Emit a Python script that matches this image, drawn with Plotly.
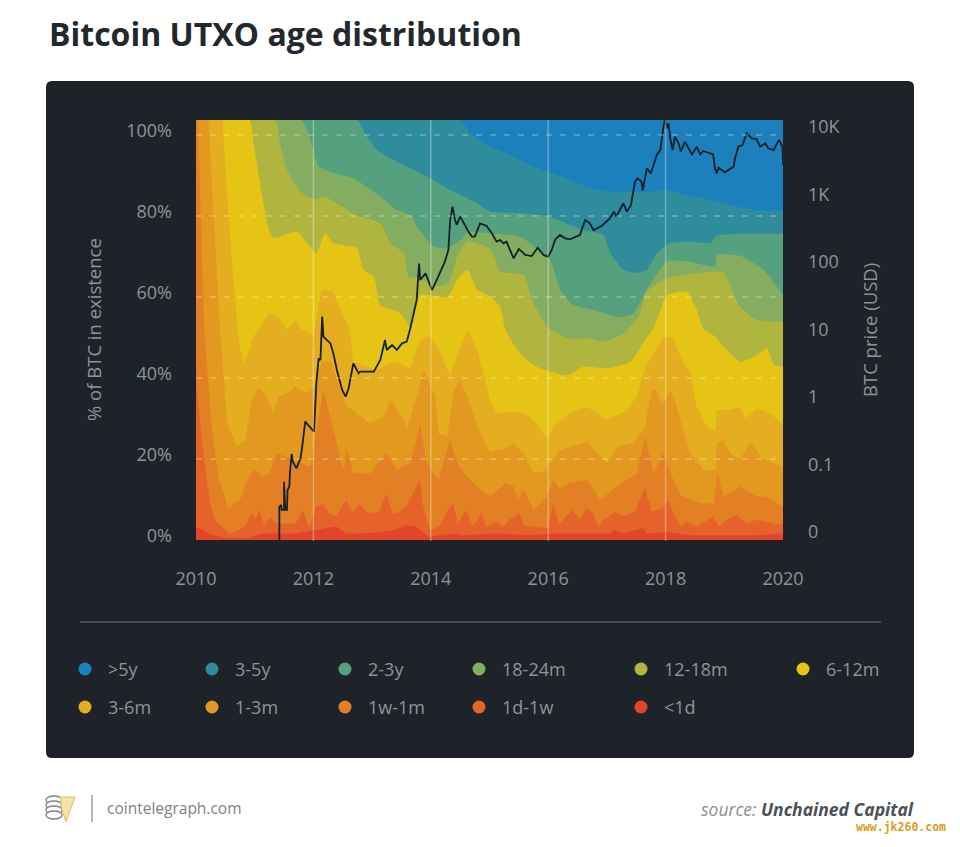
import plotly.graph_objects as go

TOP = 103.7

# band tops (year, % of BTC)
x_gt5y = [2010, 2020]
y_gt5y = [TOP, TOP]

x_3_5y = [2010, 2014.5, 2014.67, 2015.0, 2015.35, 2015.69, 2015.98, 2016.37, 2016.71, 2016.94, 2017.4, 2017.68, 2017.96, 2018.36, 2018.76, 2019.1, 2019.5, 2020]
y_3_5y = [TOP, TOP, 100.4, 97.2, 95.1, 92.6, 91, 88.9, 86.9, 86.2, 85.9, 85.9, 86.4, 85.2, 84, 82.7, 81.5, 81.3]

x_2_3y = [2010, 2012.74, 2012.91, 2013.08, 2013.42, 2013.99, 2014.33, 2014.79, 2015.01, 2015.58, 2015.98, 2016.37, 2016.6, 2016.94, 2017.06, 2017.28, 2017.51, 2017.68, 2017.85, 2018.08, 2018.42, 2018.76, 2018.87, 2019.1, 2019.56, 2020]
y_2_3y = [TOP, TOP, 99.6, 96.3, 93.4, 89.3, 86.4, 83.2, 81.1, 80.7, 80, 77.8, 76.6, 75.3, 70.8, 66.7, 65.9, 66.7, 70.8, 73.3, 73.7, 73.3, 75.1, 75.5, 75.7, 75.6]

x_18_24m = [2010, 2011.8, 2011.95, 2012.09, 2012.34, 2012.68, 2013.14, 2013.37, 2013.68, 2013.76, 2014.05, 2014.28, 2014.5, 2014.62, 2015.01, 2015.52, 2016.03, 2016.2, 2016.43, 2016.77, 2017.23, 2017.45, 2017.68, 2018.02, 2018.36, 2018.85, 2018.87, 2019.27, 2019.67, 2020]
y_18_24m = [TOP, TOP, 98.8, 92.2, 90.6, 89.3, 84.8, 81.9, 79.9, 77.4, 72.5, 72, 74, 76, 75.7, 74.9, 69.2, 61.8, 58, 56.8, 55, 56, 61.8, 68.8, 68.8, 67.5, 70.4, 70.2, 66.7, 60.5]

x_12_18m = [2010, 2011.35, 2011.43, 2011.55, 2011.72, 2011.89, 2012.03, 2012.2, 2012.34, 2012.54, 2012.71, 2013.14, 2013.31, 2013.54, 2013.62, 2013.82, 2014.05, 2014.3, 2014.45, 2014.62, 2015.01, 2015.18, 2015.58, 2015.72, 2015.98, 2016.32, 2016.71, 2016.94, 2017.28, 2017.54, 2017.68, 2018.02, 2018.36, 2018.85, 2018.99, 2019.27, 2019.56, 2020]
y_12_18m = [TOP, TOP, 98, 91.4, 86.9, 84.8, 84.1, 84.8, 83.6, 81.9, 80.3, 78.2, 73.3, 70.8, 65, 64.6, 62.6, 63.4, 70, 73.7, 72, 66.3, 65.5, 59.3, 52.7, 49.8, 49.8, 49, 51, 55.2, 61.3, 64.6, 65.5, 66.3, 65.9, 57.6, 54.3, 53.9]

x_6_12m = [2010, 2010.91, 2010.98, 2011.12, 2011.24, 2011.32, 2011.72, 2011.89, 2012.05, 2012.2, 2012.34, 2012.74, 2012.85, 2013.03, 2013.14, 2013.48, 2013.65, 2013.82, 2014.28, 2014.45, 2014.62, 2014.79, 2015.01, 2015.18, 2015.27, 2015.44, 2015.64, 2015.86, 2016.32, 2016.6, 2017, 2017.4, 2017.65, 2017.79, 2017.91, 2018.02, 2018.36, 2018.53, 2018.65, 2018.82, 2019.04, 2019.27, 2019.56, 2019.73, 2019.84, 2020]
y_6_12m = [TOP, TOP, 98, 85.6, 76.6, 74.5, 76.2, 73.3, 70.8, 75.7, 73.3, 72, 66.7, 65, 58, 56, 52.7, 60.5, 60, 64.2, 66.7, 61.8, 60.1, 57.6, 51.9, 47.7, 44.4, 42.4, 40.7, 42.8, 42.4, 44, 49.4, 52.2, 56.8, 60.5, 61.3, 56.8, 51.9, 50.5, 46.9, 44, 45.7, 47.3, 43.2, 42.8]

x_3_6m = [2010, 2010.45, 2010.53, 2010.61, 2010.71, 2010.75, 2010.81, 2010.89, 2010.98, 2011.06, 2011.24, 2011.41, 2011.55, 2011.69, 2011.8, 2012.0, 2012.14, 2012.34, 2012.46, 2012.6, 2012.63, 2012.68, 2012.91, 2013.08, 2013.25, 2013.42, 2013.65, 2013.82, 2013.99, 2014.16, 2014.33, 2014.5, 2014.64, 2014.79, 2015.01, 2015.12, 2015.35, 2015.58, 2015.75, 2015.98, 2016.12, 2016.37, 2016.66, 2017, 2017.34, 2017.51, 2017.65, 2017.96, 2018.11, 2018.25, 2018.42, 2018.53, 2018.7, 2018.85, 2018.87, 2019.1, 2019.27, 2019.36, 2019.56, 2019.78, 2020]
y_3_6m = [TOP, TOP, 85.6, 69.2, 51.9, 47.7, 43.6, 46.1, 50.2, 51.9, 56, 54.8, 51.9, 54.3, 51.9, 50.5, 61.8, 61.3, 56.8, 52.7, 50.2, 44, 42.8, 42, 43.2, 44, 42.4, 49.4, 50.6, 46.1, 40.7, 47.7, 51.9, 46.9, 34.6, 31.3, 31.7, 31.4, 29.6, 25.1, 28.4, 31.3, 32.9, 29.6, 32.1, 35.4, 42.8, 49.8, 50.2, 45.3, 41.2, 32.9, 28, 26.8, 32.1, 32.1, 32.9, 30, 32.5, 31.3, 28.4]

x_1_3m = [2010, 2010.21, 2010.41, 2010.47, 2010.53, 2010.7, 2010.84, 2010.95, 2011.06, 2011.18, 2011.32, 2011.41, 2011.55, 2011.69, 2011.89, 2012.03, 2012.14, 2012.3, 2012.46, 2012.57, 2012.97, 2013.2, 2013.31, 2013.54, 2013.59, 2013.76, 2013.88, 2014.08, 2014.13, 2014.28, 2014.39, 2014.5, 2014.62, 2014.84, 2015.01, 2015.27, 2015.41, 2015.58, 2015.75, 2015.92, 2016.03, 2016.2, 2016.66, 2016.89, 2017, 2017.17, 2017.45, 2017.65, 2017.77, 2017.85, 2017.94, 2018.08, 2018.16, 2018.28, 2018.42, 2018.65, 2018.85, 2018.87, 2018.99, 2019.1, 2019.27, 2019.44, 2019.64, 2020]
y_1_3m = [TOP, TOP, 51.9, 39.5, 28.8, 23, 24.7, 34.6, 37.4, 36.2, 31.3, 35.4, 36.2, 37.9, 36.2, 38, 44, 44, 37.7, 33, 28.8, 30.5, 34.6, 29.6, 27.2, 35.4, 42, 35.4, 26.3, 25.5, 37, 39.5, 35.4, 26.3, 21.8, 22.6, 23.9, 21.4, 16.5, 16.9, 18.9, 22.2, 24.3, 20.6, 18.9, 23, 23.9, 28, 37.4, 37, 33.3, 37, 34.6, 28, 21.4, 17.3, 17.3, 23.9, 24.7, 21.4, 19.8, 24.3, 20.2, 18.1]

x_1w_1m = [2010, 2010.03, 2010.14, 2010.18, 2010.27, 2010.38, 2010.55, 2010.75, 2010.89, 2011, 2011.12, 2011.25, 2011.38, 2011.52, 2011.72, 2011.95, 2012.05, 2012.17, 2012.34, 2012.51, 2012.57, 2012.68, 2012.97, 2013.25, 2013.42, 2013.65, 2013.82, 2013.93, 2014.13, 2014.33, 2014.45, 2014.62, 2014.84, 2015.01, 2015.27, 2015.41, 2015.49, 2015.58, 2015.75, 2015.98, 2016.09, 2016.2, 2016.35, 2016.66, 2016.89, 2017.17, 2017.51, 2017.65, 2017.79, 2017.96, 2018.11, 2018.25, 2018.59, 2018.82, 2018.89, 2018.99, 2019.27, 2019.56, 2019.73, 2020]
y_1w_1m = [TOP, TOP, 51.9, 43.6, 27.2, 15.6, 7.8, 9.9, 15.6, 17.3, 15.6, 16.5, 21.4, 20.6, 19.3, 18.1, 27, 37, 27.2, 17.3, 22.2, 16.5, 16.5, 21.4, 17.3, 19, 28.4, 19, 14.8, 24.7, 19, 15.6, 12.4, 10.7, 14, 13.2, 9.9, 12.4, 7.4, 10.7, 14.8, 12.4, 14, 14.8, 9.9, 13.2, 16.5, 25.5, 16.5, 21.4, 15.6, 11.1, 9, 9, 16.5, 10.7, 13.2, 10.7, 10.7, 8.2]

x_1d_1w = [2010, 2010.01, 2010.13, 2010.24, 2010.34, 2010.57, 2010.74, 2010.85, 2010.94, 2011.02, 2011.08, 2011.16, 2011.28, 2011.36, 2011.7, 2011.82, 2011.93, 2012.05, 2012.16, 2012.27, 2012.39, 2012.56, 2012.67, 2012.78, 2012.9, 2013.01, 2013.13, 2013.24, 2013.35, 2013.41, 2013.58, 2013.67, 2013.81, 2013.86, 2013.98, 2014.15, 2014.29, 2014.38, 2014.46, 2014.6, 2014.72, 2014.86, 2014.94, 2015.11, 2015.23, 2015.34, 2015.51, 2015.6, 2015.8, 2016, 2016.08, 2016.19, 2016.42, 2016.54, 2016.65, 2016.77, 2016.85, 2016.94, 2017.14, 2017.28, 2017.48, 2017.65, 2017.76, 2017.93, 2018.05, 2018.16, 2018.27, 2018.36, 2018.53, 2018.81, 2018.9, 2019.04, 2019.21, 2019.38, 2019.55, 2019.72, 2019.95, 2020]
y_1d_1w = [45, 37.9, 20.6, 9, 4.5, 1.6, 2.5, 3.7, 6.6, 5, 7.4, 3.7, 5.8, 4.1, 4.1, 7.4, 2.9, 8.2, 9, 6.6, 5.8, 9.9, 6.6, 9, 7, 6.6, 7, 11.5, 6.6, 6.6, 8.2, 10.7, 14.8, 9, 2.5, 3.3, 7.4, 9, 4.1, 7.4, 3.3, 6.6, 3.3, 4.5, 3.3, 5, 6.6, 3.3, 3.3, 2.9, 9, 4.1, 7.4, 5, 7.8, 6.6, 3.3, 5, 7, 5.8, 7, 12.8, 7, 7.8, 9.9, 5.8, 3.3, 4.5, 3.3, 5.8, 3.3, 5, 6.2, 4.1, 5, 4.5, 3.7, 4]

x_lt1d = [2010, 2010.28, 2010.57, 2010.85, 2011.14, 2011.42, 2011.7, 2012.05, 2012.39, 2012.56, 2012.84, 2013.18, 2013.41, 2013.58, 2013.75, 2013.89, 2013.98, 2014.15, 2014.38, 2014.55, 2015.11, 2015.68, 2016.08, 2016.6, 2016.71, 2017.05, 2017.11, 2017.28, 2017.62, 2017.68, 2018.02, 2018.41, 2018.98, 2019.55, 2020]
y_lt1d = [3.3, 1.2, 0.4, 0.4, 1.6, 1.6, 1.6, 2.5, 3.3, 1.6, 1.6, 2, 2.5, 3.7, 3.3, 1.6, 0.8, 1.2, 1.6, 1.2, 1.6, 1.2, 1.6, 1.6, 1.6, 1.6, 2.5, 1.6, 2.9, 1.6, 2, 1.2, 1.2, 1.2, 1.6]

# BTC price (USD)
price_x = [2011.42, 2011.42, 2011.45, 2011.46, 2011.5, 2011.5, 2011.52, 2011.55, 2011.56, 2011.59, 2011.6, 2011.63, 2011.65, 2011.71, 2011.78, 2011.81, 2011.86, 2011.95, 2012.01, 2012.05, 2012.09, 2012.12, 2012.15, 2012.17, 2012.29, 2012.34, 2012.4, 2012.49, 2012.55, 2012.6, 2012.68, 2012.77, 2012.8, 2013.03, 2013.14, 2013.22, 2013.25, 2013.34, 2013.42, 2013.51, 2013.59, 2013.65, 2013.76, 2013.8, 2013.82, 2013.91, 2014.02, 2014.1,
           2014.24, 2014.3, 2014.33, 2014.37, 2014.4, 2014.44, 2014.5, 2014.58, 2014.64, 2014.7, 2014.75, 2014.84, 2014.95, 2015.04, 2015.12, 2015.18, 2015.24, 2015.29, 2015.38, 2015.41, 2015.5, 2015.61, 2015.72, 2015.82, 2015.92, 2016.0, 2016.06, 2016.12, 2016.2, 2016.29, 2016.37, 2016.54, 2016.63, 2016.71,
           2016.77, 2016.91, 2017.05, 2017.12, 2017.16, 2017.28, 2017.34, 2017.41, 2017.48, 2017.52, 2017.59, 2017.61, 2017.68, 2017.75, 2017.85,
           2017.91, 2017.96, 2017.99, 2018.02, 2018.05, 2018.08, 2018.12, 2018.16, 2018.22, 2018.26, 2018.33, 2018.45, 2018.53, 2018.59, 2018.64, 2018.81, 2018.84, 2018.87, 2018.9, 2019.01, 2019.16, 2019.18, 2019.24, 2019.31, 2019.38, 2019.47, 2019.55, 2019.61, 2019.7, 2019.75, 2019.84, 2019.93, 2019.99, 2020]
price_y = [0.01, 0.031, 0.033, 0.028, 0.028, 0.073, 0.028, 0.028, 0.055, 0.062, 0.097, 0.188, 0.144, 0.115, 0.162, 0.242, 0.566, 0.451, 0.403, 2.09, 4.91, 4.64, 20.4, 10.3, 8.18, 5.82, 3.3, 1.67, 1.33, 1.77, 4.14, 2.94, 3.12, 3.12, 4.64, 9.18, 6.53, 7.74, 6.53, 8.18, 8.67, 13.6, 35.9, 125, 71, 89, 50.5, 71,
           133, 198, 551, 867, 617, 464, 617, 464, 370, 312, 312, 491, 449, 349, 263, 278, 248, 263, 167, 149, 205, 167, 161, 214, 167, 157, 198, 284, 330, 294, 284, 330, 551, 491,
           392, 449, 583, 731, 617, 973, 731, 918, 2037, 2280, 2037, 1500, 3206, 2704, 5058,
           5984, 12530, 17660, 12530, 14900, 8910, 5984, 9440, 7520, 5660, 7960, 5160, 6710, 5160, 5790, 5160, 3210, 2700, 3280, 2800, 3400, 4400, 6710, 7110, 10570, 8910, 8710, 6710, 7520, 6340, 5984, 8430, 6710, 3590]

band_names = [">5y", "3-5y", "2-3y", "18-24m", "12-18m", "6-12m", "3-6m", "1-3m", "1w-1m", "1d-1w", "<1d"]
band_colors = ["#1b80bc", "#2e8c9c", "#55a07f", "#84ad62", "#b0b53f", "#e5c416", "#e5ad20", "#e3981f", "#e37f25", "#e5622a", "#e2452b"]
band_x = [x_gt5y, x_3_5y, x_2_3y, x_18_24m, x_12_18m, x_6_12m, x_3_6m, x_1_3m, x_1w_1m, x_1d_1w, x_lt1d]
band_y = [y_gt5y, y_3_5y, y_2_3y, y_18_24m, y_12_18m, y_6_12m, y_3_6m, y_1_3m, y_1w_1m, y_1d_1w, y_lt1d]

year_ticks = [2010, 2012, 2014, 2016, 2018, 2020]
pct_ticks = [0, 20, 40, 60, 80, 100]
pct_labels = ["0%", "20%", "40%", "60%", "80%", "100%"]
price_ticks = [0.01, 0.1, 1, 10, 100, 1000, 10000]
price_labels = ["0", "0.1", "1", "10", "100", "1K", "10K"]

W, H = 960, 847
PANEL = "#1e2329"
MUTED = "#8d9499"
FONT = "Open Sans"


def px(x):
    return x / W


def py(y):
    return 1 - y / H


fig = go.Figure()

# bands are painted top one first, each filled down to zero
for i, (name, color, xs, ys) in enumerate(zip(band_names, band_colors, band_x, band_y)):
    # upper bands are smooth in the original, the lower ones jagged
    line = dict(width=0, color=color)
    if i < 6:
        line.update(shape="spline", smoothing=0.5)
    fig.add_trace(go.Scatter(
        x=xs, y=ys, name=name, mode="lines",
        line=line,
        fill="tozeroy", fillcolor=color,
        showlegend=False, hoverinfo="skip",
    ))

fig.add_trace(go.Scatter(
    x=price_x, y=price_y, name="BTC price", yaxis="y2", mode="lines",
    line=dict(width=1.8, color="#13212a"),
    showlegend=False,
))

# panel behind the plot
shapes = [dict(
    type="path", xref="paper", yref="paper", layer="below",
    path=f"M {px(52)} {py(81)} L {px(908)} {py(81)} Q {px(914)} {py(81)} {px(914)} {py(87)} "
         f"L {px(914)} {py(752)} Q {px(914)} {py(758)} {px(908)} {py(758)} "
         f"L {px(52)} {py(758)} Q {px(46)} {py(758)} {px(46)} {py(752)} "
         f"L {px(46)} {py(87)} Q {px(46)} {py(81)} {px(52)} {py(81)} Z",
    fillcolor=PANEL, line=dict(width=0),
)]

# grid has to sit over the filled areas
for v in pct_ticks[1:]:
    shapes.append(dict(type="line", xref="paper", yref="y", x0=px(196), x1=px(783), y0=v, y1=v,
                       line=dict(color="rgba(255,255,255,0.3)", width=1.5, dash="6px,8px")))
for v in year_ticks[1:-1]:
    shapes.append(dict(type="line", xref="x", yref="paper", x0=v, x1=v, y0=py(541), y1=py(120),
                       line=dict(color="rgba(255,255,255,0.32)", width=1.5)))

# separator above the legend
shapes.append(dict(type="line", xref="paper", yref="paper", x0=px(80), x1=px(881), y0=py(622), y1=py(622),
                   line=dict(color="#555b61", width=1.5)))

annotations = []

# legend: dots and labels on the original uneven grid
legend_dot_x = [85, 212, 345, 479, 641, 803, 85, 212, 345, 479, 641]
legend_row_y = [669] * 6 + [707] * 5
for name, color, lx, ly in zip(band_names, band_colors, legend_dot_x, legend_row_y):
    shapes.append(dict(type="circle", xref="paper", yref="paper",
                       x0=px(lx - 6.5), x1=px(lx + 6.5), y0=py(ly + 6.5), y1=py(ly - 6.5),
                       fillcolor=color, line=dict(width=0)))
    annotations.append(dict(xref="paper", yref="paper", x=px(lx + 21), y=py(ly), text=name,
                            showarrow=False, xanchor="left", yanchor="middle",
                            font=dict(family=FONT, size=18, color=MUTED)))

# axis titles
annotations.append(dict(xref="paper", yref="paper", x=px(93), y=py(330), text="% of BTC in existence",
                        showarrow=False, textangle=-90, xanchor="center", yanchor="middle",
                        font=dict(family=FONT, size=18.5, color=MUTED)))
annotations.append(dict(xref="paper", yref="paper", x=px(869), y=py(330), text="BTC price (USD)",
                        showarrow=False, textangle=-90, xanchor="center", yanchor="middle",
                        font=dict(family=FONT, size=18.5, color=MUTED)))

# title, footer
annotations.append(dict(xref="paper", yref="paper", x=px(47), y=py(33), text="<b>Bitcoin UTXO age distribution</b>",
                        showarrow=False, xanchor="left", yanchor="middle",
                        font=dict(family=FONT, size=32, color="#23282d")))
annotations.append(dict(xref="paper", yref="paper", x=px(105), y=py(808), text="cointelegraph.com",
                        showarrow=False, xanchor="left", yanchor="middle",
                        font=dict(family=FONT, size=15.5, color="#7d8388")))
annotations.append(dict(xref="paper", yref="paper", x=px(916), y=py(809),
                        text="<i>source: </i><b><i><span style='color:#4a5056'>Unchained Capital</span></i></b>",
                        showarrow=False, xanchor="right", yanchor="middle",
                        font=dict(family=FONT, size=17.5, color="#8b9095")))
annotations.append(dict(xref="paper", yref="paper", x=px(948), y=py(827), text="<b>www.jk260.com</b>",
                        showarrow=False, xanchor="right", yanchor="middle",
                        font=dict(family="DejaVu Sans Mono", size=11.5, color="#d9a021")))

# logo: coin stack with a small bolt, then the divider
for cy in [800, 805, 810, 815]:
    shapes.append(dict(type="circle", xref="paper", yref="paper",
                       x0=px(46), x1=px(62), y0=py(cy + 4), y1=py(cy - 4),
                       fillcolor="#ffffff", line=dict(color="#7c8388", width=1.3)))
shapes.append(dict(type="path", xref="paper", yref="paper",
                   path=f"M {px(60)} {py(797)} L {px(75)} {py(797)} L {px(66)} {py(822)} L {px(62)} {py(810)} Z",
                   fillcolor="#f4e3a6", line=dict(color="#dcbf5c", width=1)))
shapes.append(dict(type="line", xref="paper", yref="paper", x0=px(92), x1=px(92), y0=py(795), y1=py(822),
                   line=dict(color="#8a9095", width=1.3)))

fig.update_layout(
    width=W, height=H,
    margin=dict(l=0, r=0, t=0, b=0, autoexpand=False),
    paper_bgcolor="white", plot_bgcolor=PANEL,
    font=dict(family=FONT, size=18, color=MUTED),
    showlegend=False,
    shapes=shapes,
    annotations=annotations,
    xaxis=dict(
        domain=[px(196), px(783)], range=[2010, 2020],
        tickvals=year_ticks, ticks="outside", ticklen=21, tickcolor="rgba(0,0,0,0)",
        showgrid=False, zeroline=False, showline=False,
        tickfont=dict(size=18, color=MUTED),
    ),
    yaxis=dict(
        domain=[py(541), py(120)], range=[-0.25, TOP],
        tickvals=pct_ticks, ticktext=pct_labels,
        showgrid=False, zeroline=False, showline=False,
        ticklabelstandoff=23, ticklabelshift=-4,
        tickfont=dict(size=18, color=MUTED),
    ),
    yaxis2=dict(
        overlaying="y", side="right", type="log",
        range=[-2.015, 4.222],
        tickvals=price_ticks, ticktext=price_labels,
        showgrid=False, zeroline=False, showline=False,
        ticklabelstandoff=24, ticklabelshift=-8,
        tickfont=dict(size=18, color=MUTED),
    ),
)

fig.write_html("out.html", config={"displayModeBar": False}, post_script="document.body.style.margin='0';")
